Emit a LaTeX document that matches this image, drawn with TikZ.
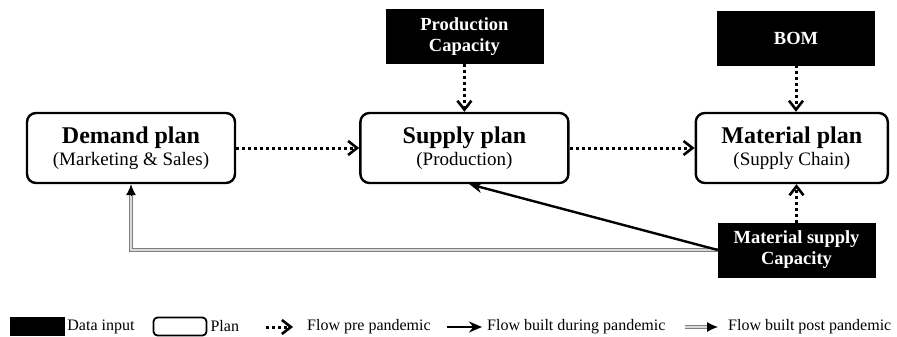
\documentclass[tikz,border=0pt]{standalone}
\usepackage{fontspec}
\setmainfont{Liberation Serif}
\usepackage{tikz}
\usetikzlibrary{positioning, arrows.meta}

\newcommand{\titlefont}{\fontsize{24}{26}\selectfont\bfseries}
\newcommand{\subfont}{\fontsize{19}{21}\selectfont}

\begin{document}
\begin{tikzpicture}[
    x=1pt, y=-1pt,
    plan/.style={rectangle, draw, rounded corners=9pt, line width=2.4pt, minimum width=208pt, minimum height=70pt, inner sep=0pt, align=center},
    datainput/.style={rectangle, draw=black, fill=black, text=white, minimum width=157pt, minimum height=54pt, inner sep=0pt, align=center, font=\fontsize{18.5}{21}\selectfont\bfseries},
    prepan/.style={line width=3pt, dash pattern=on 3pt off 3pt, -{Straight Barb[length=9pt, width=14pt, line width=2.6pt]}},
    during/.style={line width=2.4pt, -{Stealth[length=13pt, width=11pt]}},
    postpan/.style={draw=gray, double=gray!30, double distance=1.4pt, line width=1.3pt},
    posttip/.style={line width=1pt, -{Latex[length=11pt, width=10pt]}},
    legtext/.style={anchor=west, inner sep=0pt, font=\fontsize{16}{18}\selectfont}
]

\useasboundingbox (0,0) rectangle (897,337);

% Plans
\node[plan] (demand) at (131,148) {{\titlefont Demand plan}\\[3pt]{\subfont (Marketing \& Sales)}};
\node[plan, right=123pt of demand] (supply) {{\titlefont Supply plan}\\[3pt]{\subfont (Production)}};
\node[plan, minimum width=192pt, right=125pt of supply] (material) {{\titlefont Material plan}\\[3pt]{\subfont (Supply Chain)}};

% Data inputs
\node[datainput, above=48pt of supply] (prodcap) {Production\\Capacity};
\node[datainput] (bom) at (796,38) {BOM};
\node[datainput] (matcap) at (796.5,250) {Material supply\\Capacity};

% Flows
\draw[prepan] (demand) -- (supply);
\draw[prepan] (supply) -- (material);
\draw[prepan] (prodcap) -- (supply);
\draw[prepan] (bom.south) -- (bom.south |- material.north);
\draw[prepan] (matcap.north) -- (matcap.north |- material.south);
\coordinate (demandin) at ([yshift=-11pt]demand.south);
\draw[postpan] (matcap.west) -| (demandin);
\draw[posttip] (demandin) -- (demand.south);
\draw[during] (matcap.west) -- ([xshift=5pt]supply.south);

% Legend
\node[rectangle, fill=black, minimum width=55pt, minimum height=19pt, inner sep=0pt] (leginput) at (37.5,326.5) {};
\node[legtext, right=2pt of leginput] (leginputtxt) {Data input};
\node[rectangle, draw, rounded corners=4pt, line width=1.8pt, minimum width=53pt, minimum height=18pt, inner sep=0pt] (legplan) at (180,326.5) {};
\node[legtext, right=3pt of legplan] (legplantxt) {Plan};
\coordinate (legpre1) at (266,327);
\coordinate (legpre2) at (293,327);
\draw[prepan] (legpre1) -- (legpre2);
\node[legtext] (legpretxt) at (307,327) {Flow pre pandemic};
\coordinate (legdur1) at (447,327);
\coordinate (legdur2) at (482,327);
\draw[during] (legdur1) -- (legdur2);
\node[legtext] (legdurtxt) at (487,327) {Flow built during pandemic};
\coordinate (legpost1) at (685,327);
\coordinate (legpost2) at (707,327);
\coordinate (legpost3) at (718,327);
\draw[postpan] (legpost1) -- (legpost2);
\draw[posttip] (legpost2) -- (legpost3);
\node[legtext] (legposttxt) at (728,327) {Flow built post pandemic};

\end{tikzpicture}
\end{document}
